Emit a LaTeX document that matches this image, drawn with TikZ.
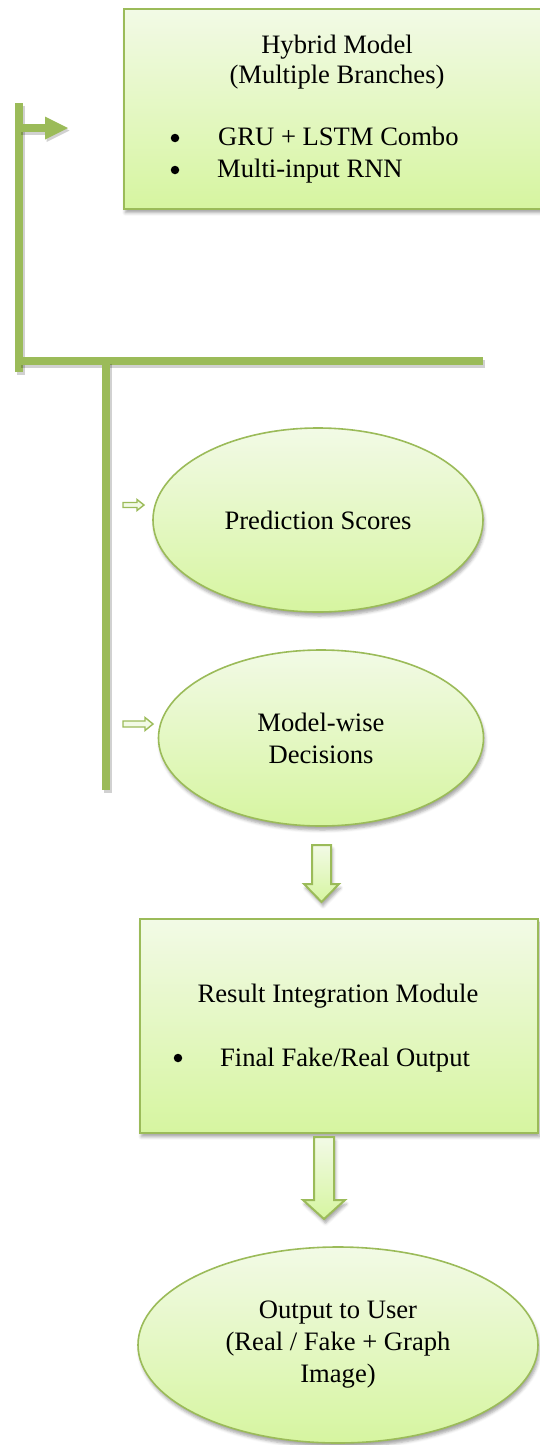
\documentclass[tikz,border=0pt]{standalone}
\usepackage{fontspec}
\setmainfont{Liberation Serif}
\usetikzlibrary{shapes.geometric,shadows.blur,arrows.meta}
\definecolor{lgreen}{HTML}{9BBB59}
\definecolor{ftop}{HTML}{F2FAE6}
\definecolor{fbot}{HTML}{D6F5A0}
\begin{document}
\begin{tikzpicture}[x=1pt,y=-1pt,
  sh/.style={blur shadow={shadow xshift=1.5pt, shadow yshift=-4pt, shadow blur radius=3pt, shadow opacity=35}},
  box/.style={draw=lgreen, line width=1.6pt, top color=ftop, bottom color=fbot, sh, inner sep=0pt},
  oval/.style={ellipse, draw=lgreen, line width=1.6pt, top color=ftop, bottom color=fbot, sh, inner sep=0pt, align=center, font=\fontsize{26.6}{32}\selectfont},
  txt/.style={font=\fontsize{26.6}{32}\selectfont, inner sep=0pt},
  bul/.style={circle, fill=black, inner sep=0pt, minimum size=8.5pt},
  ln/.style={draw=lgreen, line width=8pt,
    preaction={draw=black, opacity=0.18, line width=8pt, transform canvas={xshift=1.5pt,yshift=-2.5pt}}},
  small/.style={draw=lgreen, line width=1.4pt, fill=ftop, line join=miter},
  blockarr/.style={draw=lgreen, line width=2pt, top color=ftop, bottom color=fbot, sh, line join=miter}
]
\useasboundingbox (0,0) rectangle (539,1445);

% top box
\node[box, minimum width=425pt, minimum height=200pt, anchor=north west] (hyb) at (123,8) {};
\node[txt, anchor=base] (h1) at (337,53) {Hybrid Model};
\node[txt, anchor=base] (h2) at (337,83) {(Multiple Branches)};
\node[bul] (hb1) at (175,138) {};
\node[txt, anchor=base west] (g1) at (218,145) {GRU + LSTM Combo};
\node[bul] (hb2) at (175,170) {};
\node[txt, anchor=base west] (g2) at (217,177) {Multi-input RNN};

% connector tree
\coordinate (t1) at (19,103);
\coordinate (t2) at (19,372);
\coordinate (hl) at (19,361);
\coordinate (hr) at (483,361);
\coordinate (v1) at (106,361);
\coordinate (v2) at (106,790);
\coordinate (a0) at (19,128);
\coordinate (a1) at (68,128);
\draw[ln] (t1) -- (t2);
\draw[ln] (hl) -- (hr);
\draw[ln] (v1) -- (v2);
\draw[ln, -{Triangle[length=23pt,width=23pt,line width=0pt]}] (a0) -- (a1);

% ellipses
\node[oval, minimum width=330pt, minimum height=184pt] (pred) at (318,520) {Prediction Scores};
\node[oval, minimum width=325pt, minimum height=176pt] (dec) at (321,738) {Model-wise\\Decisions};

% small arrows
\draw[small] (123,502.5) -- (137,502.5) -- (137,499.5) -- (144,505) -- (137,510.5) -- (137,507.5) -- (123,507.5) -- cycle;
\draw[small] (123,721) -- (145,721) -- (145,717.5) -- (153,724) -- (145,730.5) -- (145,727) -- (123,727) -- cycle;

% down arrow 1
\draw[blockarr] (312,845) -- (331,845) -- (331,884) -- (339,884) -- (321.5,902) -- (304,884) -- (312,884) -- cycle;

% result box
\node[box, minimum width=398pt, minimum height=214pt, anchor=north west] (res) at (139,918) {};
\node[txt, anchor=base] (r1) at (338,1002) {Result Integration Module};
\node[bul] (rb) at (178,1058) {};
\node[txt, anchor=base west] (r2) at (220,1066) {Final Fake/Real Output};

% down arrow 2
\draw[blockarr] (314,1137) -- (334,1137) -- (334,1200) -- (345,1200) -- (324,1219) -- (303,1200) -- (314,1200) -- cycle;

% output ellipse
\node[oval, minimum width=400pt, minimum height=196pt] (out) at (338,1345) {Output to User\\(Real / Fake + Graph\\Image)};
\end{tikzpicture}
\end{document}
